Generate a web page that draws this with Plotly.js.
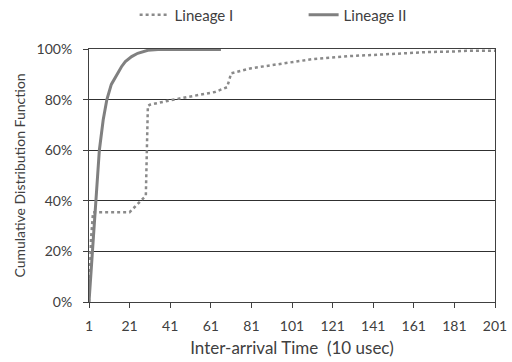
<!DOCTYPE html>
<html><head><meta charset="utf-8">
<script src="https://cdn.plot.ly/plotly-3.0.1.min.js"></script>
<style>html,body{margin:0;padding:0;background:#fff}#chart{width:512px;height:362px}</style>
</head><body><div id="chart"></div>
<script>
const seriesNames = ["Lineage I", "Lineage II"];
const lineage1X = [1, 2, 3, 21, 29, 30, 31, 44, 63, 69, 70, 71, 81, 86, 95, 100, 111, 120, 129, 140, 154, 168, 180, 187, 201];
const lineage1Y = [0, 0.25, 0.355, 0.355, 0.42, 0.775, 0.78, 0.802, 0.83, 0.849, 0.875, 0.904, 0.924, 0.93, 0.94, 0.945, 0.96, 0.966, 0.972, 0.976, 0.983, 0.988, 0.99, 0.993, 0.993];
const lineage2X = [1, 2, 2.6, 3, 4.3, 6.1, 8, 9.8, 12, 14.7, 17, 18.9, 22, 25, 28, 30, 35, 66];
const lineage2Y = [0, 0.12, 0.2, 0.26, 0.4, 0.6, 0.72, 0.8, 0.86, 0.9, 0.93, 0.95, 0.97, 0.983, 0.99, 0.995, 0.998, 0.998];
const xTicks = [1, 21, 41, 61, 81, 101, 121, 141, 161, 181, 201];
const yTicks = [0, 0.2, 0.4, 0.6, 0.8, 1.0];
const xTitle = "Inter-arrival Time  (10 usec)";
const yTitle = "Cumulative Distribution Function";

const font = "Lato, 'Open Sans', sans-serif";
const data = [
  {x: lineage1X, y: lineage1Y, name: seriesNames[0], mode: "lines",
   line: {color: "#8a8a8a", width: 2.5, dash: "dot"}},
  {x: lineage2X, y: lineage2Y, name: seriesNames[1], mode: "lines",
   line: {color: "#808080", width: 3}}
];
const layout = {
  width: 512, height: 362,
  margin: {l: 89, r: 17, t: 49, b: 60},
  paper_bgcolor: "#fff", plot_bgcolor: "#fff",
  font: {family: font, size: 14, color: "#404040"},
  showlegend: true,
  legend: {orientation: "h", xref: "container", yref: "container",
           x: 0.593, xanchor: "center", y: 1 - 15/362, yanchor: "middle",
           entrywidth: 124, entrywidthmode: "pixels",
           font: {size: 15, color: "#404040"}, bgcolor: "rgba(0,0,0,0)"},
  xaxis: {range: [1, 201], tickvals: xTicks, ticktext: xTicks.map(String),
          showgrid: false, zeroline: false, showline: true, linecolor: "#404040", linewidth: 1,
          mirror: true, ticks: "outside", ticklen: 5, tickcolor: "#404040",
          ticklabelstandoff: 6,
          tickfont: {size: 14, color: "#404040"},
          title: {text: xTitle, font: {size: 17, color: "#404040"}, standoff: 9}},
  yaxis: {range: [0, 1], tickvals: yTicks, tickformat: ".0%",
          showgrid: true, gridcolor: "#303030", gridwidth: 1,
          zeroline: false, showline: true, linecolor: "#404040", linewidth: 1,
          mirror: true, ticks: "outside", ticklen: 5, tickcolor: "#404040",
          ticklabelstandoff: 8,
          tickfont: {size: 14, color: "#404040"},
          title: {text: yTitle, font: {size: 14, color: "#404040"}, standoff: 7}}
};
Plotly.newPlot("chart", data, layout, {displayModeBar: false, staticPlot: true});
</script></body></html>
